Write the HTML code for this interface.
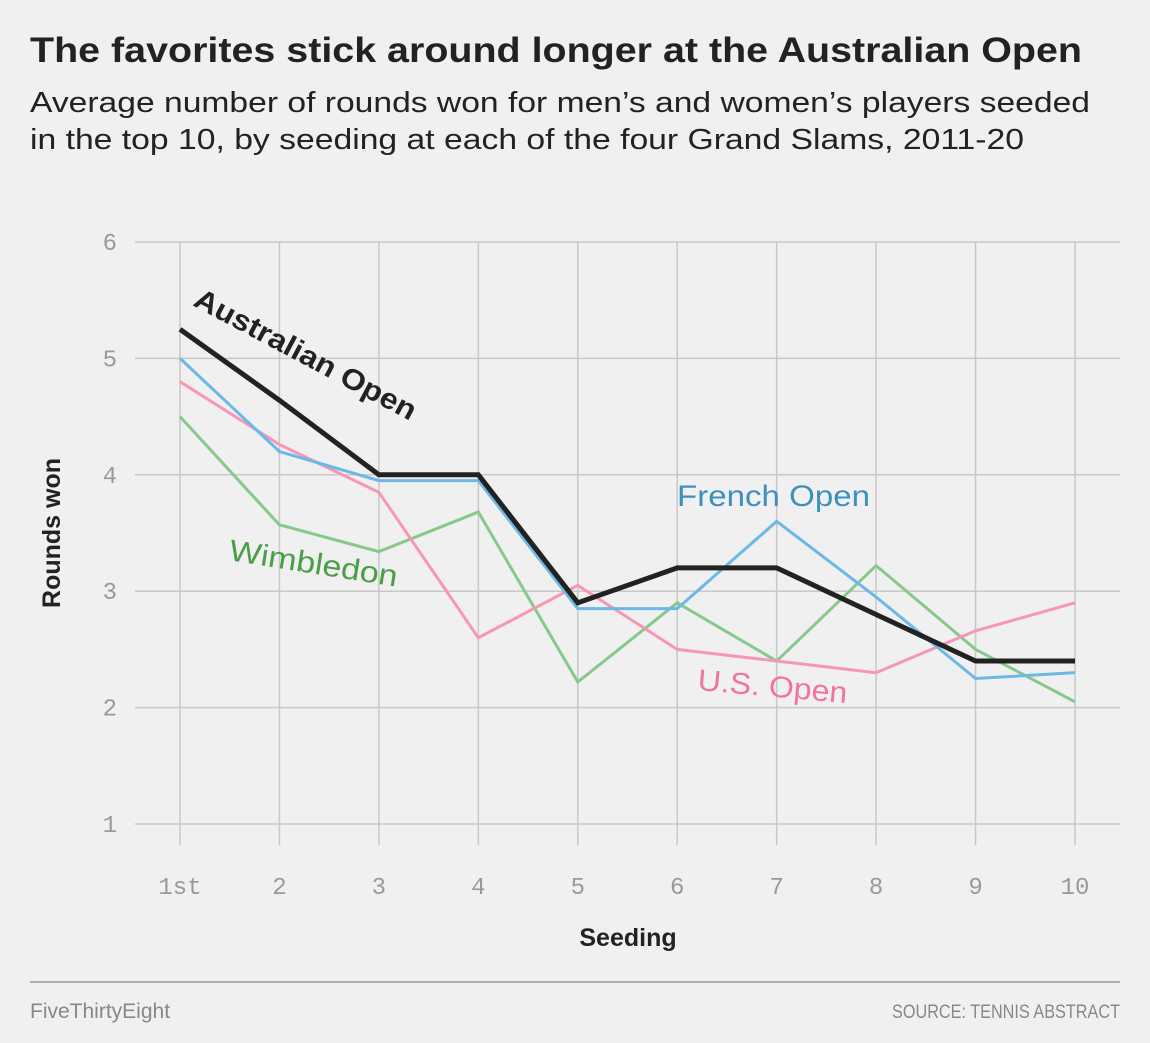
<!DOCTYPE html>
<html><head><meta charset="utf-8"><style>
body{margin:0;background:#f0f0f0;width:1150px;height:1038px;overflow:hidden;font-family:"Liberation Sans",sans-serif;}
</style></head><body>
<svg width="1150" height="1038" xmlns="http://www.w3.org/2000/svg">
<rect width="1150" height="1038" fill="#f0f0f0"/>
<text x="30" y="62" font-size="35" font-weight="bold" fill="#222" textLength="1052" lengthAdjust="spacingAndGlyphs">The favorites stick around longer at the Australian Open</text>
<text x="30" y="112" font-size="29" fill="#222" textLength="1060" lengthAdjust="spacingAndGlyphs">Average number of rounds won for men’s and women’s players seeded</text>
<text x="30" y="149" font-size="29" fill="#222" textLength="994" lengthAdjust="spacingAndGlyphs">in the top 10, by seeding at each of the four Grand Slams, 2011-20</text>
<g id="grid"></g>
<g id="ticks"></g>
<g id="lines"></g>
<text x="628" y="946" font-size="25" font-weight="bold" text-anchor="middle" fill="#222">Seeding</text>
<text transform="translate(60,533) rotate(-90)" font-size="25" font-weight="bold" text-anchor="middle" fill="#222">Rounds won</text>
<text transform="translate(192,305) rotate(28)" font-size="29" font-weight="bold" fill="#222" textLength="247" lengthAdjust="spacingAndGlyphs">Australian Open</text>
<text x="677" y="506" font-size="30" fill="#3d8fbf" textLength="193" lengthAdjust="spacingAndGlyphs">French Open</text>
<text transform="translate(228,560) rotate(9)" font-size="30" fill="#4a9e45" textLength="170" lengthAdjust="spacingAndGlyphs">Wimbledon</text>
<text transform="translate(697,690) rotate(5)" font-size="30" fill="#f0759c" textLength="150" lengthAdjust="spacingAndGlyphs">U.S. Open</text>
<line x1="30" y1="982" x2="1120" y2="982" stroke="#999" stroke-width="1.5"/>
<text x="30" y="1018" font-size="21" fill="#888">FiveThirtyEight</text>
<text x="1120" y="1018" font-size="19" fill="#888" text-anchor="end" textLength="228" lengthAdjust="spacingAndGlyphs">SOURCE: TENNIS ABSTRACT</text>
</svg>
<script>
const seeds=["1st","2","3","4","5","6","7","8","9","10"];
const yTicks=[1,2,3,4,5,6];
const australian=[5.25,4.64,4.0,4.0,2.9,3.2,3.2,2.8,2.4,2.4];
const french=[5.0,4.2,3.95,3.95,2.85,2.85,3.6,2.95,2.25,2.3];
const wimbledon=[4.5,3.57,3.34,3.68,2.22,2.9,2.4,3.22,2.5,2.05];
const usopen=[4.8,4.26,3.85,2.6,3.05,2.5,2.4,2.3,2.66,2.9];
const NS="http://www.w3.org/2000/svg";
const xs=i=>180+i*(1075-180)/9;
const ys=v=>824-(v-1)*116.4;
const grid=document.getElementById('grid'),ticks=document.getElementById('ticks'),lines=document.getElementById('lines');
function mk(t,a,p){const e=document.createElementNS(NS,t);for(const k in a)e.setAttribute(k,a[k]);p.appendChild(e);return e;}
yTicks.forEach(v=>{
 const l=mk('line',{x1:135,x2:1120,y1:ys(v),y2:ys(v),stroke:'#c8c8c8','stroke-width':1.5},grid);
 
 
 const t=mk('text',{x:117,y:ys(v)+8,'font-size':24,fill:'#999','text-anchor':'end','font-family':'Liberation Mono, monospace'},ticks);
 t.textContent=v;
 
 
});
seeds.forEach((s,i)=>{
 const l=mk('line',{x1:xs(i),x2:xs(i),y1:ys(6),y2:845,stroke:'#c8c8c8','stroke-width':1.5},grid);
 
 
 const t=mk('text',{x:xs(i),y:894,'font-size':24,fill:'#999','text-anchor':'middle','font-family':'Liberation Mono, monospace'},ticks);
 t.textContent=s;
 
 
});
[[wimbledon,'#86c98a',3,'line-wimbledon'],[usopen,'#f797b6',3,'line-us-open'],[french,'#6cb8e6',3,'line-french-open'],[australian,'#222',5,'line-australian-open']].forEach(([d,c,w,n])=>{
 const p=mk('polyline',{points:d.map((v,i)=>xs(i)+','+ys(v)).join(' '),fill:'none',stroke:c,'stroke-width':w,'stroke-linejoin':'miter'},lines);
 
 
});
</script>
</body></html>
